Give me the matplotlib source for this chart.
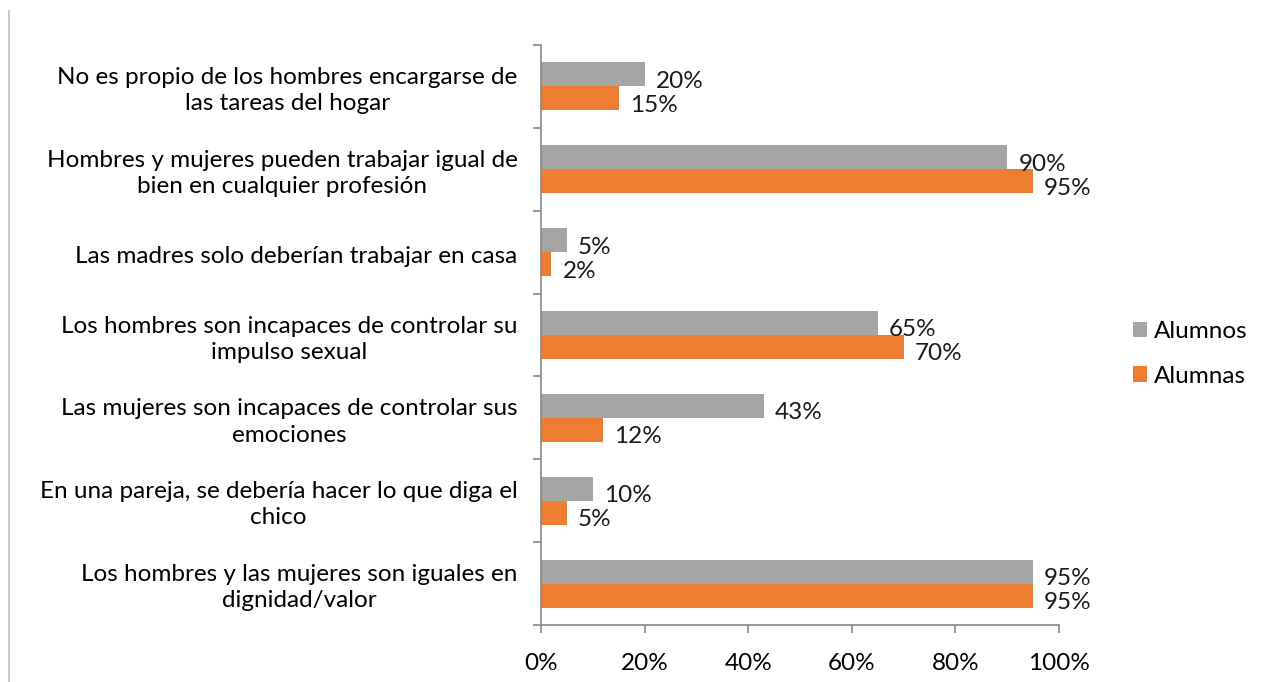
import matplotlib.pyplot as plt
from matplotlib.lines import Line2D
from matplotlib.ticker import FixedLocator, NullFormatter
from matplotlib.transforms import ScaledTranslation

plt.switch_backend("Agg")
plt.rcParams["font.family"] = ["Lato", "DejaVu Sans"]

categories = [
    "No es propio de los hombres encargarse de\nlas tareas del hogar",
    "Hombres y mujeres pueden trabajar igual de\nbien en cualquier profesión",
    "Las madres solo deberían trabajar en casa",
    "Los hombres son incapaces de controlar su\nimpulso sexual",
    "Las mujeres son incapaces de controlar sus\nemociones",
    "En una pareja, se debería hacer lo que diga el\nchico",
    "Los hombres y las mujeres son iguales en\ndignidad/valor",
]
alumnos = [20, 90, 5, 65, 43, 10, 95]
alumnas = [15, 95, 2, 70, 12, 5, 95]
x_ticks = [0, 20, 40, 60, 80, 100]

GRAY = "#A5A5A5"
ORANGE = "#ED7D31"
AXIS = "#888888"
FS = 17.5

fig = plt.figure(figsize=(12.63, 6.82), dpi=100)
ax = fig.add_axes([541 / 1263, 1 - 625 / 682, (1059 - 541) / 1263, (625 - 45) / 682])

h = 0.29
pos = list(range(len(categories)))
b1 = ax.barh([p - h / 2 for p in pos], alumnos, height=h, color=GRAY, label="Alumnos")
b2 = ax.barh([p + h / 2 for p in pos], alumnas, height=h, color=ORANGE, label="Alumnas")

for bars, vals in ((b1, alumnos), (b2, alumnas)):
    for bar, v in zip(bars, vals):
        ax.annotate(f"{v}%", (bar.get_width(), bar.get_y() + bar.get_height() / 2),
                    xytext=(8, -5), textcoords="offset points",
                    ha="left", va="center", fontsize=FS, color="#1a1a1a")

ax.set_xlim(0, 100)
ax.set_ylim(len(categories) - 0.5, -0.5)
ax.set_xticks(x_ticks)
ax.set_xticklabels([f"{t}%" for t in x_ticks])
ax.set_yticks(pos)
ax.set_yticklabels(categories, multialignment="center", linespacing=1.3)
ax.yaxis.set_minor_locator(FixedLocator([p - 0.5 for p in pos] + [len(pos) - 0.5]))
ax.yaxis.set_minor_formatter(NullFormatter())
ax.tick_params(axis="y", which="major", length=0, pad=17, labelsize=FS)
ax.tick_params(axis="y", which="minor", length=6, color=AXIS, width=1.2, direction="out")
ax.tick_params(axis="x", length=6, color=AXIS, width=1.2, direction="out", pad=14, labelsize=FS)
shift = ScaledTranslation(0, -3 / 72, fig.dpi_scale_trans)
for lbl in ax.get_yticklabels():
    lbl.set_va("center")
    lbl.set_transform(lbl.get_transform() + shift)

for s in ("top", "right"):
    ax.spines[s].set_visible(False)
for s in ("left", "bottom"):
    ax.spines[s].set_color(AXIS)
    ax.spines[s].set_linewidth(1.2)

ax.legend(loc="center left", bbox_to_anchor=(1111 / 1263, 1 - 354 / 682), bbox_transform=fig.transFigure,
          frameon=False, fontsize=FS, handlelength=0.58, handleheight=0.58, handletextpad=0.3,
          labelspacing=0.95)

fig.add_artist(Line2D([9 / 1263, 9 / 1263], [0, 1 - 11 / 682], color="#BFBFBF", linewidth=1.2))

fig.savefig("out.png", dpi=100)
plt.close(fig)
